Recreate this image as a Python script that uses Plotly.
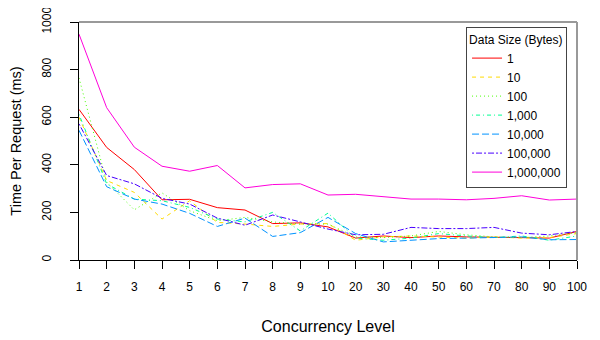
import plotly.graph_objects as go

concurrency = ["1", "2", "3", "4", "5", "6", "7", "8", "9", "10",
               "20", "30", "40", "50", "60", "70", "80", "90", "100"]

series_names = ["1", "10", "100", "1,000", "10,000", "100,000", "1,000,000"]

s_1 = [633, 473, 380, 253, 255, 220, 210, 153, 156, 139, 92, 101, 94, 101, 97, 94, 94, 92, 120]
s_10 = [600, 334, 284, 172, 249, 158, 151, 141, 151, 153, 83, 97, 101, 97, 92, 97, 92, 94, 111]
s_100 = [765, 327, 211, 282, 207, 165, 179, 160, 151, 151, 97, 94, 101, 120, 106, 97, 94, 101, 115]
s_1000 = [612, 320, 256, 249, 221, 172, 160, 200, 122, 197, 92, 83, 92, 111, 101, 94, 101, 83, 101]
s_10000 = [545, 308, 256, 235, 196, 141, 176, 99, 115, 179, 111, 76, 83, 90, 92, 94, 97, 85, 86]
s_100000 = [572, 355, 320, 259, 235, 176, 146, 189, 160, 130, 106, 108, 137, 132, 132, 137, 113, 106, 120]
s_1000000 = [949, 640, 474, 394, 373, 397, 303, 317, 320, 273, 276, 266, 256, 256, 253, 259, 270, 252, 256]

all_series = [s_1, s_10, s_100, s_1000, s_10000, s_100000, s_1000000]
colors = ["#FF0000", "#FFDB00", "#49FF00", "#00FF92", "#0092FF", "#4900FF", "#FF00DB"]
# R line types: solid, dashed, dotted, dotdash, longdash, twodash, solid
dashes = ["solid", "4px,4px", "1px,3px", "1px,3px,4px,3px", "7px,3px", "2px,2px,6px,2px", "solid"]

fig = go.Figure()
for name, vals, c, d in zip(series_names, all_series, colors, dashes):
    fig.add_trace(go.Scatter(
        x=concurrency, y=vals, mode="lines", name=name,
        line=dict(color=c, width=1, dash=d),
    ))

font_family = "Liberation Sans, Arial, sans-serif"

# page body has an 8px margin, so the figure is 592x332 and offset accordingly
fig.update_layout(
    width=592, height=332,
    margin=dict(l=71, r=23, t=14, b=80, autoexpand=False),
    paper_bgcolor="white", plot_bgcolor="white",
    font=dict(family=font_family, size=12, color="black"),
    showlegend=True,
    legend=dict(
        title=dict(text="Data Size (Bytes)", font=dict(size=12)),
        x=0.98, y=0.979, xanchor="right", yanchor="top",
        bgcolor="white", bordercolor="#444444", borderwidth=1,
        font=dict(size=12), itemwidth=30, tracegroupgap=0,
    ),
    xaxis=dict(
        type="category", range=[0, 18], automargin=False,
        showgrid=False, zeroline=False,
        showline=True, linecolor="black", linewidth=1,
        ticks="outside", ticklen=8, tickcolor="black",
        ticklabelstandoff=8, ticklabeloverflow="allow",
        tickfont=dict(size=12),
        title=dict(text="Concurrency Level", font=dict(size=16), standoff=27),
    ),
    yaxis=dict(
        range=[0, 1000], tickvals=[0, 200, 400, 600, 800, 1000], automargin=False,
        showgrid=False, zeroline=False,
        showline=True, linecolor="black", linewidth=1,
        ticks="outside", ticklen=8, tickcolor="black",
        tickangle=-90, ticklabelstandoff=14, ticklabeloverflow="allow",
        tickfont=dict(size=12),
        title=dict(text="Time Per Request (ms)", font=dict(size=14.5), standoff=17),
    ),
    shapes=[
        dict(type="line", xref="paper", yref="paper", x0=0, x1=1, y0=1, y1=1,
             line=dict(color="#999999", width=2), layer="above"),
        dict(type="line", xref="paper", yref="paper", x0=1, x1=1, y0=0, y1=1,
             line=dict(color="#999999", width=2), layer="above"),
    ],
)

fig.write_html("out.html")
